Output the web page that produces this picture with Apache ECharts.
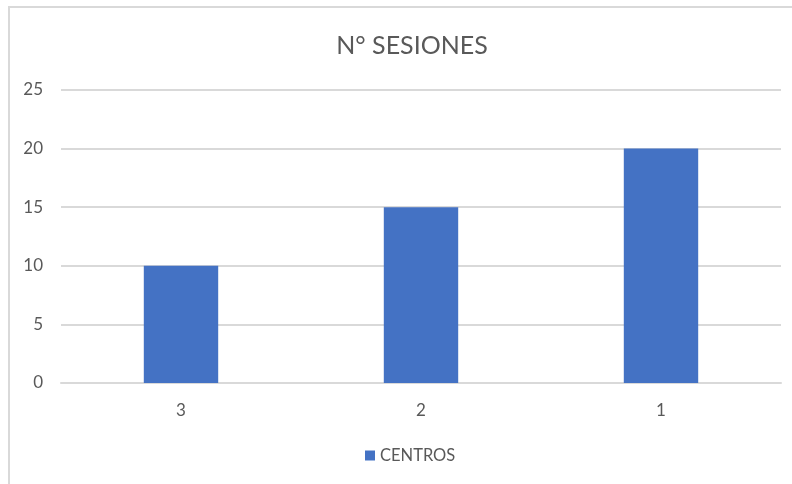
<!DOCTYPE html>
<html>
<head>
<meta charset="utf-8">
<script src="https://cdn.jsdelivr.net/npm/echarts@6/dist/echarts.min.js"></script>
<style>
  html, body { margin: 0; padding: 0; background: #ffffff; }
  #chart { width: 792px; height: 484px; }
</style>
</head>
<body>
<div id="chart"></div>
<script>
// Sessions per centre
const chartTitle = 'N° SESIONES';
const seriesName = 'CENTROS';
const categories = ['3', '2', '1'];
const sessions = [10, 15, 20];

const textColor = '#595959';
const gridColor = '#d9d9d9';
const barColor = '#4472C4';
const fontFamily = 'Lato, "Open Sans", sans-serif';

const chart = echarts.init(document.getElementById('chart'));
chart.setOption({
  animation: false,
  backgroundColor: '#ffffff',
  textStyle: { fontFamily: fontFamily },
  graphic: [{
    type: 'rect',
    silent: true,
    shape: { x: 9, y: 7, width: 820, height: 520 },
    style: { fill: 'none', stroke: gridColor, lineWidth: 2 }
  }],
  title: {
    text: chartTitle,
    left: 407,
    textAlign: 'center',
    top: 28,
    textStyle: { color: textColor, fontSize: 25, fontWeight: 'normal', fontFamily: fontFamily }
  },
  legend: {
    data: [seriesName],
    top: 447,
    left: 365,
    padding: 0,
    itemWidth: 10,
    itemHeight: 10,
    itemGap: 6,
    icon: 'rect',
    textStyle: { color: textColor, fontSize: 16.5, lineHeight: 14, fontFamily: fontFamily }
  },
  grid: { left: 61, right: 11, top: 90, bottom: 101, containLabel: false },
  xAxis: {
    type: 'category',
    data: categories,
    axisLine: { show: true, lineStyle: { color: gridColor, width: 2 } },
    axisTick: { show: false },
    axisLabel: { color: textColor, fontSize: 17, margin: 19, fontFamily: fontFamily }
  },
  yAxis: {
    type: 'value',
    min: 0,
    max: 25,
    interval: 5,
    axisLine: { show: false },
    axisTick: { show: false },
    axisLabel: { color: textColor, fontSize: 17, margin: 18, fontFamily: fontFamily },
    splitLine: { lineStyle: { color: gridColor, width: 2 } }
  },
  series: [{
    name: seriesName,
    type: 'bar',
    data: sessions,
    barWidth: '31%',
    itemStyle: { color: barColor }
  }]
});
</script>
</body>
</html>
